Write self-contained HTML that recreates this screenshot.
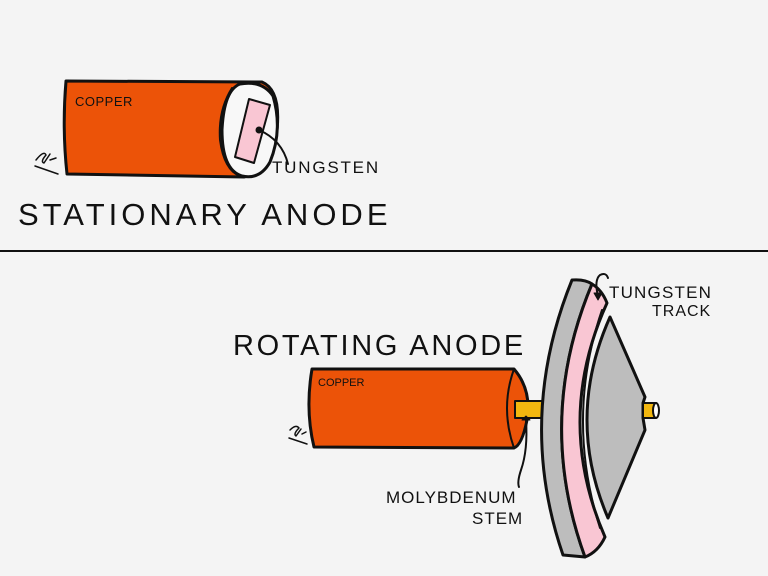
<!DOCTYPE html>
<html><head><meta charset="utf-8"><style>
html,body{margin:0;padding:0;background:#f4f4f4;}
svg{display:block}
text{font-family:"Liberation Sans",sans-serif;fill:#111}
</style></head><body>
<svg width="768" height="576" viewBox="0 0 768 576" xmlns="http://www.w3.org/2000/svg">
<rect width="768" height="576" fill="#f4f4f4"/>
<g stroke="#111" stroke-width="3" stroke-linejoin="round" stroke-linecap="round">
<!-- stationary -->
<path d="M66 81 L262 82 Q281 90 277 130 Q272 170 244 177 L67 174 Q62 128 66 81 Z" fill="#ec5308"/>
<path d="M240 84 Q262 80 273 96 Q283 130 270 162 Q260 180 242 176 Q222 170 222 130 Q224 90 240 84 Z" fill="#f8f8f8"/>
<path d="M232 88 Q218 110 220 140 Q224 170 240 176" fill="none" stroke-width="2"/>
<path d="M249 99 L270 105 L254 163 L235 157 Z" fill="#f9c6d3" stroke-width="2"/>
<path d="M259 130 Q282 140 288 164" fill="none" stroke-width="2"/>
<circle cx="259" cy="130" r="2" fill="#111"/>
<path d="M36 160 Q44 150 46 155 Q40 162 44 163 L50 154 M50 160 L56 158 M35 166 L58 174" fill="none" stroke-width="1.5"/>
<!-- divider -->
<line x1="0" y1="251" x2="768" y2="251" stroke-width="2"/>
<!-- rotating cylinder -->
<path d="M312 369 L514 369 Q532 390 527 420 Q522 445 514 448 L314 447 Q305 410 312 369 Z" fill="#ec5308"/>
<path d="M514 369 Q500 408 514 448" fill="none" stroke-width="2"/>
<path d="M515 401 L543 401 L543 418 L515 418 Z" fill="#f2b70f" stroke-width="2"/>
<path d="M526 416 L522 420 L530 420 Z" fill="#111" stroke-width="1"/>
<path d="M526 420 Q528 450 521 470 Q517 482 519 487" fill="none" stroke-width="2"/>
<path d="M290 430 Q296 424 299 428 Q293 434 296 436 L301 429 M302 434 L306 432 M289 438 L307 444" fill="none" stroke-width="1.5"/>
<!-- disk -->
<path d="M572 280 Q585 279 592 284 Q535 420 585 557 L563 555 Q516 418 572 280 Z" fill="#bdbdbd"/>
<path d="M592 284 Q602 290 607 303 Q554 420 605 537 Q598 552 585 557 Q535 420 592 284 Z" fill="#f9c6d3"/>
<path d="M602 310 Q565 418 600 528" fill="none" stroke-width="2"/>
<path d="M610 317 L645 397 L643 403 L643 418 L645 430 L608 518 Q565 418 610 317 Z" fill="#bdbdbd"/>
<path d="M643 403 L656 403 Q660 410 656 418 L643 418 Z" fill="#f2b70f" stroke-width="2"/>
<ellipse cx="656" cy="410.5" rx="3" ry="7.5" fill="#fff" stroke-width="2"/>
<path d="M598 296 Q594 280 600 275 Q606 272 608 278" fill="none" stroke-width="2"/>
<path d="M598 300 L594 293 L602 293 Z" fill="#111" stroke-width="1"/>
</g>
<text x="75" y="106" font-size="13" letter-spacing="0.5">COPPER</text>
<text x="272" y="173" font-size="17" letter-spacing="1.8">TUNGSTEN</text>
<text x="18" y="225" font-size="31" letter-spacing="4">STATIONARY ANODE</text>
<text x="233" y="355" font-size="29" letter-spacing="2.7">ROTATING ANODE</text>
<text x="318" y="386" font-size="11">COPPER</text>
<text x="386" y="503" font-size="17" letter-spacing="1">MOLYBDENUM</text>
<text x="472" y="524" font-size="17" letter-spacing="1">STEM</text>
<text x="609" y="298" font-size="17" letter-spacing="1.2">TUNGSTEN</text>
<text x="652" y="316" font-size="16" letter-spacing="1">TRACK</text>
</svg>
</body></html>
